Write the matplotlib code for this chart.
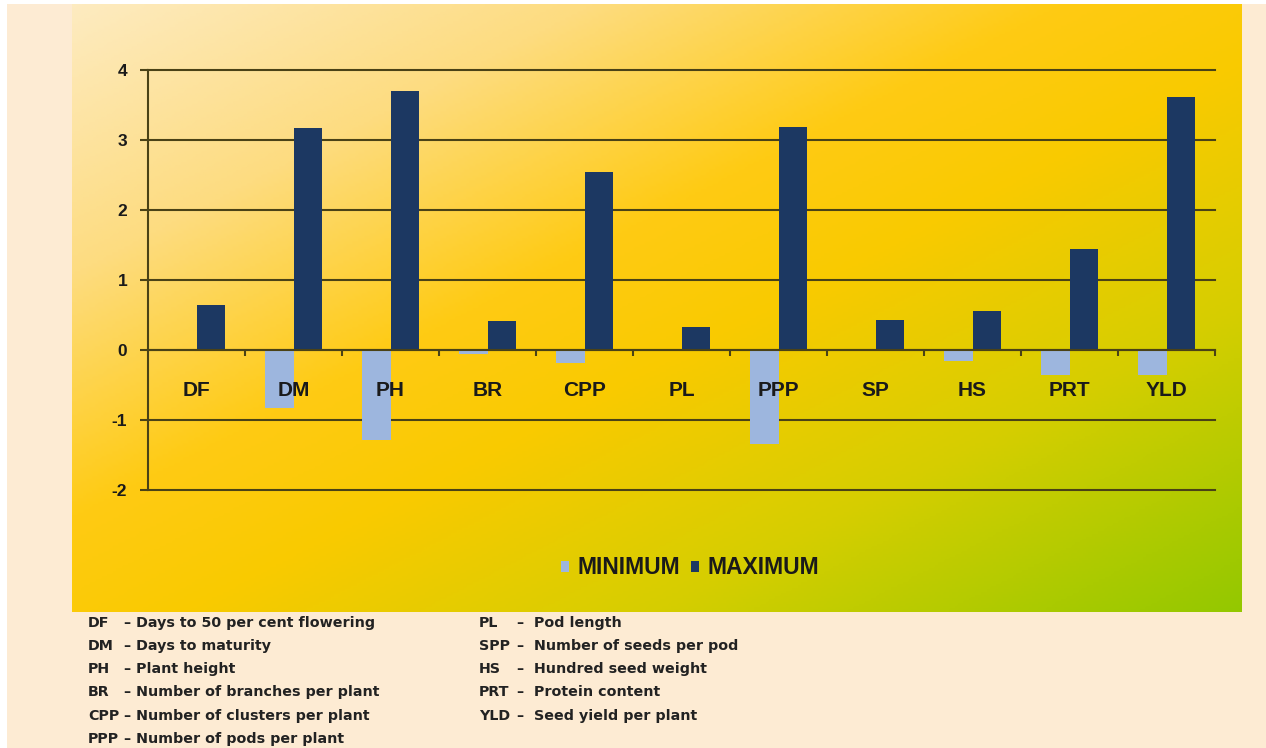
import numpy as np
import matplotlib
matplotlib.use("Agg")
import matplotlib.pyplot as plt
import matplotlib.patches as mpatches
from matplotlib.colors import LinearSegmentedColormap

# data
traits  = ["DF", "DM", "PH", "BR", "CPP", "PL", "PPP", "SP", "HS", "PRT", "YLD"]
minimum = [0.0, -0.83, -1.28, -0.05, -0.18, 0.0, -1.34, 0.0, -0.16, -0.36, -0.35]
maximum = [0.65, 3.17, 3.70, 0.42, 2.55, 0.33, 3.18, 0.43, 0.56, 1.45, 3.62]

key_left = [("DF",  "\u2013 Days to 50 per cent flowering"),
            ("DM",  "\u2013 Days to maturity"),
            ("PH",  "\u2013 Plant height"),
            ("BR",  "\u2013 Number of branches per plant"),
            ("CPP", "\u2013 Number of clusters per plant"),
            ("PPP", "\u2013 Number of pods per plant")]
key_right = [("PL",  "Pod length"),
             ("SPP", "Number of seeds per pod"),
             ("HS",  "Hundred seed weight"),
             ("PRT", "Protein content"),
             ("YLD", "Seed yield per plant")]

W, H = 1266, 748
CREAM   = "#FDEBD3"
GRID    = "#4A4216"
MIN_COL = "#9DB6DE"
MAX_COL = "#1C3862"

plt.rcParams["font.family"] = ["Liberation Sans", "DejaVu Sans"]
plt.rcParams["axes.unicode_minus"] = False

fig = plt.figure(figsize=(W / 100, H / 100), dpi=100, facecolor=CREAM)

# white strips at top and left edge
fig.patches.append(mpatches.Rectangle((0, 1 - 4 / H), 1, 4 / H, transform=fig.transFigure,
                                      facecolor="white", edgecolor="none", zorder=0))
fig.patches.append(mpatches.Rectangle((0, 0), 7 / W, 1, transform=fig.transFigure,
                                      facecolor="white", edgecolor="none", zorder=0))

# gradient panel
gx0, gx1, gy0, gy1 = 72, 1242, 4, 612
bg = fig.add_axes((gx0 / W, 1 - gy1 / H, (gx1 - gx0) / W, (gy1 - gy0) / H), zorder=0)
cmap = LinearSegmentedColormap.from_list("slide", [
    (0.00, "#FDEBC0"), (0.22, "#FDDC80"), (0.42, "#FFCB14"),
    (0.55, "#F9CA00"), (0.75, "#D6CE00"), (1.00, "#94C800")])
u = np.linspace(0, 1, 400)
v = np.linspace(0, 1, 220)
uu, vv = np.meshgrid(u, v)
bg.imshow(0.5 * (uu + vv), cmap=cmap, aspect="auto", extent=(0, 1, 1, 0), vmin=0, vmax=1)
bg.set_axis_off()

# main chart
ax = fig.add_axes((148 / W, 1 - 490 / H, (1215 - 148) / W, (490 - 70) / H), zorder=1)
ax.patch.set_alpha(0)
n = len(traits)
centers = np.arange(n) + 0.5
bw = 0.29
ax.bar(centers - bw, minimum, width=bw, align="edge", color=MIN_COL, zorder=1, label="MINIMUM")
ax.bar(centers, maximum, width=bw, align="edge", color=MAX_COL, zorder=1, label="MAXIMUM")

ax.set_xlim(0, n)
ax.set_ylim(-2, 4)
for yv in range(-2, 5):
    ax.axhline(yv, color=GRID, lw=1.5, zorder=0.5, clip_on=False)

for s in ["top", "right"]:
    ax.spines[s].set_visible(False)
ax.spines["left"].set_color(GRID)
ax.spines["left"].set_linewidth(1.5)
ax.spines["bottom"].set_position(("data", 0))
ax.spines["bottom"].set_color(GRID)
ax.spines["bottom"].set_linewidth(1.5)

ax.set_yticks(range(-2, 5))
ax.tick_params(axis="y", length=6, width=1.5, color=GRID, pad=9,
               labelsize=12.5, labelcolor="#1a1a1a")
for t in ax.get_yticklabels():
    t.set_fontweight("bold")

ax.set_xticks(np.arange(1, n + 1))
ax.set_xticklabels([])
ax.tick_params(axis="x", which="major", direction="out", length=4, width=1.5, color=GRID)

# category names sit on top of the bars
for c, name in zip(centers, traits):
    ax.text(c, -0.58, name, ha="center", va="center", fontsize=15, fontweight="bold",
            color="#1a1a1a", zorder=5)

leg = fig.legend(loc="center", bbox_to_anchor=(690 / W, 1 - 568 / H), ncol=2, frameon=False,
                 prop={"size": 16.5, "weight": "bold"}, handlelength=0.35, handleheight=0.35,
                 handletextpad=0.35, columnspacing=0.5)
for t in leg.get_texts():
    t.set_color("#1a1a1a")

# abbreviation key below the panel
kfont = dict(fontsize=10.3, fontweight="bold", color="#222222", va="center",
             family="DejaVu Sans")
rows = [623, 646, 669, 692, 716, 739]
for (ab, desc), yy in zip(key_left, rows):
    fig.text(88 / W, 1 - yy / H, ab, **kfont)
    fig.text(124 / W, 1 - yy / H, desc, **kfont)
for (ab, desc), yy in zip(key_right, rows):
    fig.text(479 / W, 1 - yy / H, ab, **kfont)
    fig.text(516 / W, 1 - yy / H, "\u2013", **kfont)
    fig.text(534 / W, 1 - yy / H, desc, **kfont)

fig.savefig("out.png", dpi=100, facecolor=CREAM)
